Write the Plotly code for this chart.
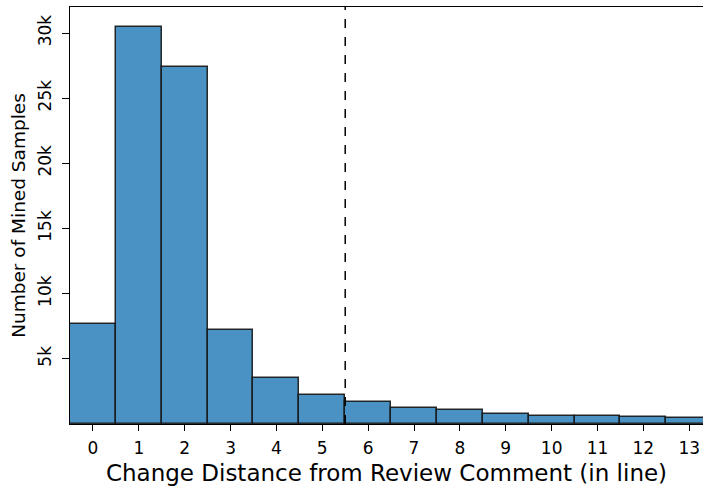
import plotly.graph_objects as go

distances = list(range(14))
counts = [7670, 30490, 27400, 7210, 3500, 2190, 1660, 1200, 1070, 790, 640, 585, 560, 485]
ytick_vals = [5000, 10000, 15000, 20000, 25000, 30000]
ytick_text = ["5k", "10k", "15k", "20k", "25k", "30k"]
xtick_text = [str(d) for d in distances]
threshold = 5.5

fig = go.Figure()
fig.add_trace(go.Bar(
    x=distances, y=counts, width=1.0,
    marker=dict(color="rgb(75,146,196)", line=dict(color="rgba(20,20,20,0.9)", width=1.5)),
    showlegend=False,
))
fig.add_shape(type="line", xref="x", yref="paper", x0=threshold, x1=threshold, y0=0, y1=1,
              line=dict(color="black", width=1.5, dash="dash"))

font = "DejaVu Sans, sans-serif"
fig.update_layout(
    width=703, height=486,
    margin=dict(l=70, r=0, t=7, b=62),
    plot_bgcolor="white", paper_bgcolor="white",
    font=dict(family=font, color="black"),
    bargap=0,
)
fig.update_xaxes(
    range=[-0.5, 13.3], tickvals=distances, ticktext=xtick_text,
    ticks="outside", ticklen=6, tickwidth=1, tickcolor="black",
    showline=True, linecolor="black", linewidth=1.2, mirror=True,
    showgrid=False, zeroline=False,
    tickfont=dict(size=17), ticklabelstandoff=2,
    title=dict(text="Change Distance from Review Comment (in line)", font=dict(size=23), standoff=10),
)
fig.update_yaxes(
    range=[0, 32000], tickvals=ytick_vals, ticktext=ytick_text, tickangle=-90,
    ticks="outside", ticklen=7, tickwidth=1, tickcolor="black",
    showline=True, linecolor="black", linewidth=1.2,
    showgrid=False, zeroline=False,
    tickfont=dict(size=17), ticklabelstandoff=4,
    title=dict(text="Number of Mined Samples", font=dict(size=18.5), standoff=4),
)
fig.write_html(
    "out.html",
    config={"displayModeBar": False},
    post_script="document.body.style.margin='0';document.body.style.overflow='hidden';",
)
